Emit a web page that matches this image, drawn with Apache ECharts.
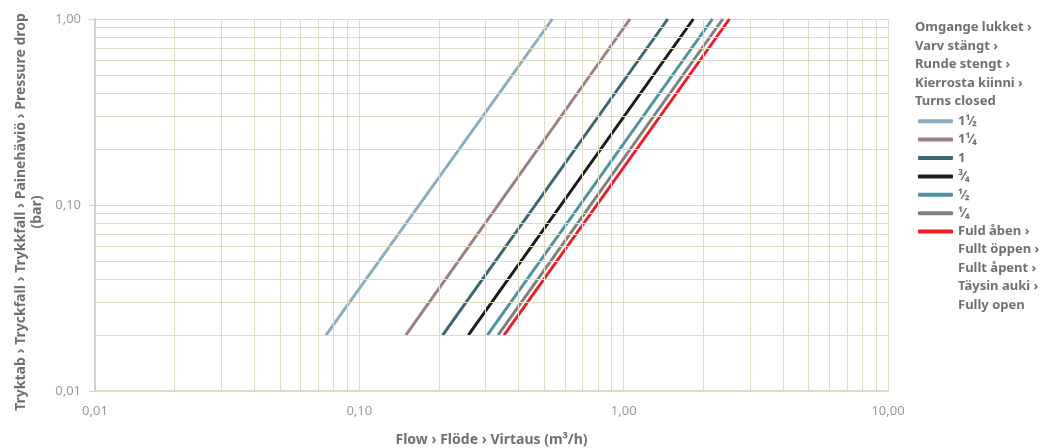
<!DOCTYPE html>
<html>
<head>
<meta charset="utf-8">
<script src="https://cdn.jsdelivr.net/npm/echarts@6/dist/echarts.min.js"></script>
<style>
  html, body { margin: 0; padding: 0; background: #fff; }
  #chart { width: 1041px; height: 448px; }
</style>
</head>
<body>
<div id="chart"></div>
<script>
// valve sizes (turns closed) + fully open
var names = ['1¹⁄₂', '1¹⁄₄', '1', '³⁄₄', '¹⁄₂', '¹⁄₄', 'Fuld åben ›'];
var colors = ['#8aaebb', '#9b7f82', '#3e6670', '#1c1c1c', '#4e949f', '#808080', '#e8202a'];
// flow at 0.02 bar and at 1.00 bar
var flowLow  = [0.0748, 0.150, 0.2067, 0.2585, 0.305, 0.3348, 0.3527];
var flowHigh = [0.5375, 1.057, 1.468, 1.835, 2.166, 2.371, 2.513];
var dpLow = 0.02, dpHigh = 1.0;

var xMajor = [0.01, 0.1, 1, 10];
var yMajor = [0.01, 0.1, 1];
var minorSteps = [2, 3, 4, 5, 6, 7, 8, 9];

var gridColor = '#dddbc6';
var font = '"Noto Sans", "Open Sans", sans-serif';

function comma(v) {
    return v.toFixed(2).replace('.', ',');
}

// minor grid lines between decades
var minorLines = [];
xMajor.slice(0, -1).forEach(function (d) {
    minorSteps.forEach(function (k) { minorLines.push({ xAxis: d * k }); });
});
yMajor.slice(0, -1).forEach(function (d) {
    minorSteps.forEach(function (k) { minorLines.push({ yAxis: d * k }); });
});

var series = names.map(function (n, i) {
    return {
        name: n,
        type: 'line',
        symbol: 'none',
        silent: true,
        z: 3,
        lineStyle: { color: colors[i], width: 3 },
        itemStyle: { color: colors[i] },
        data: [[flowLow[i], dpLow], [flowHigh[i], dpHigh]]
    };
});
series.unshift({
    type: 'line',
    data: [],
    silent: true,
    markLine: {
        silent: true,
        symbol: 'none',
        animation: false,
        label: { show: false },
        lineStyle: { color: gridColor, width: 1, type: 'solid' },
        data: minorLines
    }
});

var myChart = echarts.init(document.getElementById('chart'));

myChart.setOption({
    animation: false,
    grid: { left: 95, right: 153, top: 19, bottom: 57, outerBoundsMode: 'none' },
    xAxis: {
        type: 'log',
        logBase: 10,
        min: 0.01,
        max: 10,
        interval: 1,
        name: 'Flow › Flöde › Virtaus (m³/h)',
        nameLocation: 'middle',
        nameGap: 42,
        nameTextStyle: { color: '#707070', fontSize: 14, fontWeight: 'bold', fontFamily: font },
        axisLine: { lineStyle: { color: gridColor, width: 2 } },
        axisTick: { show: false },
        axisLabel: { color: '#9a9a9a', fontSize: 13, fontFamily: font, margin: 14, formatter: comma },
        splitLine: { show: true, lineStyle: { color: gridColor, width: 1 } }
    },
    yAxis: {
        type: 'log',
        logBase: 10,
        min: 0.01,
        max: 1,
        interval: 1,
        axisLine: { lineStyle: { color: '#cfcfcf', width: 2 } },
        axisTick: { show: true, length: 6, lineStyle: { color: '#cfcfcf' } },
        axisLabel: { color: '#9a9a9a', fontSize: 13, fontFamily: font, margin: 14, formatter: comma },
        splitLine: { show: true, lineStyle: { color: gridColor, width: 1 } }
    },
    legend: {
        orient: 'vertical',
        left: 913,
        top: 107,
        icon: 'roundRect',
        itemWidth: 35,
        itemHeight: 4,
        itemGap: 0,
        data: names,
        textStyle: { color: '#707070', fontSize: 13, fontWeight: 'bold', fontFamily: font, lineHeight: 18.4 }
    },
    graphic: [
        {
            type: 'text',
            x: 29,
            y: 212,
            rotation: Math.PI / 2,
            silent: true,
            style: {
                text: 'Tryktab › Tryckfall › Trykkfall › Painehäviö › Pressure drop\n(bar)',
                fill: '#707070',
                font: 'bold 14px ' + font,
                lineHeight: 16,
                align: 'center',
                verticalAlign: 'middle'
            }
        },
        {
            type: 'text',
            left: 915,
            top: 18,
            silent: true,
            style: {
                text: 'Omgange lukket ›\nVarv stängt ›\nRunde stengt ›\nKierrosta kiinni ›\nTurns closed',
                fill: '#707070',
                font: 'bold 13px ' + font,
                lineHeight: 18.6
            }
        },
        {
            type: 'text',
            left: 958,
            top: 240,
            silent: true,
            style: {
                text: 'Fullt öppen ›\nFullt åpent ›\nTäysin auki ›\nFully open',
                fill: '#707070',
                font: 'bold 13px ' + font,
                lineHeight: 18.6
            }
        }
    ],
    series: series
});
</script>
</body>
</html>
